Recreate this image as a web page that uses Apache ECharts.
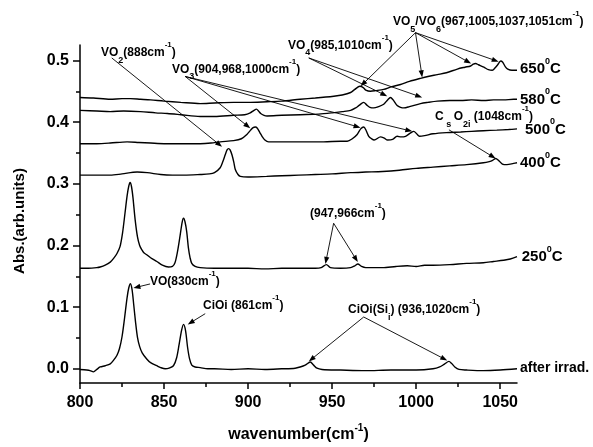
<!DOCTYPE html>
<html><head><meta charset="utf-8">
<script src="https://cdn.jsdelivr.net/npm/echarts@6/dist/echarts.min.js"></script>
<style>html,body{margin:0;padding:0;background:#fff}#c{width:593px;height:447px}</style>
</head><body><div id="c"></div>
<script>
// ---- axis ticks ----
const xTicks = [800, 850, 900, 950, 1000, 1050];
const xMinorTicks = [825, 875, 925, 975, 1025];
const yTicks = [0, 0.1, 0.2, 0.3, 0.4, 0.5];
const yMinorTicks = [0.05, 0.15, 0.25, 0.35, 0.45];

// ---- spectra [wavenumber, absorbance] ----
const afterIrrad = [[800,-0.001],[804,-0.002],[806,-0.003],[808,-0.005],[810,-0.001],[812,0.003],[815,0.005],[818,0.008],[820,0.014],[822,0.022],[823.5,0.033],[825,0.052],[826.5,0.082],[828,0.115],[829,0.131],[830,0.138],[831,0.128],[832,0.103],[833,0.077],[834.2,0.051],[835.5,0.036],[837,0.026],[839.7,0.016],[842,0.010],[845.7,0.005],[848,0.002],[850.7,0.000],[853,0.001],[855.6,0.005],[857.5,0.018],[859,0.040],[860.5,0.063],[861.6,0.072],[862.8,0.062],[864,0.035],[865.2,0.016],[866.5,0.006],[868.5,0.003],[871.5,0.002],[876,0.000],[880,0.000],[890,-0.001],[900,0.000],[910,-0.001],[920,0.000],[928,0.001],[931,0.003],[934,0.006],[937,0.011],[939,0.006],[941,0.001],[944,-0.001],[955,-0.002],[970,-0.003],[985,-0.002],[1000,-0.002],[1010,0.000],[1014,0.003],[1017,0.008],[1019.5,0.012],[1021,0.009],[1023,0.003],[1025.5,-0.001],[1030,-0.002],[1040,-0.003],[1050,-0.002],[1060,0.000]];
const t250 = [[800,0.163],[805,0.163],[810,0.164],[812,0.165],[815,0.168],[818,0.173],[820,0.179],[822,0.187],[823.8,0.198],[825.3,0.220],[826.8,0.253],[828,0.280],[829,0.296],[829.8,0.302],[830.6,0.296],[831.5,0.278],[832.8,0.242],[834.2,0.214],[835.5,0.200],[836.8,0.193],[838,0.188],[839.7,0.185],[842,0.180],[845.7,0.174],[849,0.168],[852.6,0.165],[855,0.166],[856.5,0.172],[858,0.190],[859.5,0.215],[860.8,0.238],[861.6,0.244],[862.5,0.238],[863.5,0.222],[864.5,0.196],[865.5,0.180],[866.5,0.171],[868.5,0.166],[871.5,0.164],[880,0.163],[890,0.163],[900,0.163],[910,0.162],[920,0.163],[931,0.163],[940,0.163],[943.5,0.164],[946.6,0.169],[949,0.164],[955,0.163],[961,0.164],[963.5,0.167],[965.3,0.170],[967.5,0.166],[970,0.164],[980,0.164],[988,0.166],[994.7,0.167],[1000,0.166],[1005,0.168],[1010,0.168],[1020,0.169],[1030,0.171],[1040,0.172],[1046,0.174],[1052,0.176],[1056,0.178],[1060,0.182]];
const t400 = [[800,0.314],[810,0.314],[818,0.314],[825,0.316],[834,0.319],[840,0.318],[848,0.315],[855,0.314],[862,0.314],[871.5,0.315],[877,0.316],[880,0.318],[883.4,0.326],[885,0.336],[886.4,0.347],[887.5,0.355],[888.4,0.357],[889.3,0.355],[890.4,0.347],[891.5,0.335],[892.4,0.323],[894,0.315],[895.4,0.312],[900,0.311],[911,0.312],[920,0.313],[930,0.314],[940,0.315],[950,0.316],[961,0.318],[970,0.319],[980,0.320],[990,0.322],[1000,0.325],[1010,0.327],[1020,0.329],[1030,0.331],[1040,0.334],[1043.5,0.336],[1045.5,0.338],[1047.3,0.341],[1049,0.338],[1051.3,0.332],[1054,0.331],[1058,0.333],[1060,0.334]];
const t500 = [[800,0.365],[810,0.365],[818,0.366],[828,0.368],[835,0.367],[842,0.366],[850,0.365],[856,0.365],[864,0.365],[871.5,0.365],[878,0.366],[883.4,0.368],[891.4,0.370],[896,0.373],[899.3,0.380],[901.5,0.387],[903,0.391],[904.3,0.392],[905.5,0.390],[907,0.383],[908.3,0.377],[910,0.371],[912.2,0.368],[920,0.368],[931,0.368],[945,0.368],[955,0.369],[959,0.369],[962,0.373],[964.9,0.380],[967,0.389],[968.8,0.392],[970.3,0.386],[971.8,0.377],[973.5,0.373],[975,0.371],[978.8,0.376],[981,0.374],[983,0.371],[986,0.372],[988.7,0.377],[991,0.376],[993.7,0.377],[996.5,0.382],[998.6,0.385],[1000.3,0.381],[1002,0.377],[1005,0.378],[1010,0.381],[1018,0.383],[1026.5,0.384],[1033,0.385],[1040,0.386],[1048,0.387],[1055,0.388],[1060,0.389]];
const t580 = [[800,0.419],[810,0.418],[818,0.417],[826,0.418],[836,0.417],[845,0.415],[852,0.414],[860,0.412],[871.5,0.409],[880,0.409],[891.4,0.411],[898,0.412],[901.3,0.415],[903.5,0.419],[905,0.421],[906.2,0.418],[907.5,0.414],[909.5,0.411],[911.3,0.410],[920,0.411],[931,0.412],[942,0.413],[950,0.415],[956,0.417],[961,0.419],[964,0.423],[966,0.427],[968.8,0.432],[970.5,0.428],[972.5,0.424],[974.8,0.423],[977.5,0.425],[980.7,0.429],[983,0.436],[984.7,0.440],[986.3,0.436],[988.7,0.427],[990.7,0.424],[992.7,0.423],[996,0.425],[1002.6,0.430],[1007,0.432],[1012.6,0.434],[1020,0.435],[1026.5,0.435],[1033,0.436],[1040.3,0.435],[1046,0.436],[1052,0.436],[1058,0.437],[1060,0.437]];
const t650 = [[800,0.440],[808,0.439],[818,0.437],[825,0.438],[830,0.438],[836,0.437],[842,0.436],[850,0.434],[860,0.432],[871.5,0.430],[880,0.431],[891.4,0.432],[900,0.432],[911.3,0.433],[920,0.434],[931,0.437],[940,0.439],[951,0.442],[956,0.444],[961,0.448],[963.5,0.453],[966.5,0.458],[968.5,0.456],[970,0.452],[972.8,0.450],[976,0.451],[980.7,0.453],[985,0.457],[990.7,0.461],[996,0.466],[1002.6,0.471],[1007,0.474],[1012.6,0.477],[1018,0.480],[1024.5,0.486],[1029,0.489],[1032.4,0.491],[1034,0.494],[1035.4,0.495],[1037,0.493],[1040.3,0.489],[1043,0.485],[1045.3,0.484],[1047,0.488],[1048.5,0.493],[1050.3,0.499],[1051.5,0.497],[1053,0.490],[1054.5,0.486],[1057,0.484],[1060,0.484]];
const curves = [afterIrrad, t250, t400, t500, t580, t650];
const curveNames = ['after irrad.', '250', '400', '500', '580', '650'];

// ---- annotation arrows, [from, to] in data units ----
const arrows = [
  [[818.9,0.504],[884.5,0.360]],
  [[862.6,0.474],[901.3,0.390]],[[862.6,0.474],[966.9,0.391]],[[862.6,0.474],[997.7,0.385]],
  [[936.1,0.504],[982.8,0.442]],[[936.1,0.504],[1003.6,0.440]],
  [[999.6,0.545],[966.9,0.458]],[[999.6,0.545],[1003.6,0.4725]],[[999.6,0.545],[1032.7,0.495]],[[999.6,0.545],[1049.1,0.498]],
  [[1019.5,0.3875],[1047.3,0.341]],
  [[950.9,0.236],[946.0,0.170]],[[950.9,0.236],[965.3,0.173]],
  [[968.8,0.084],[936.1,0.012]],[[968.8,0.084],[1018.5,0.0135]],
  [[841.7,0.1376],[831.8,0.131]],
  [[874.5,0.0894],[864.1,0.072]]
];

const FONT = '"Liberation Sans", Arial, sans-serif';
const notes = [
  {t:'{n|VO}{b|2}{n|(888cm}{p|-1}{n|)}', x:101, y:53},
  {t:'{n|VO}{b|3}{n|(904,968,1000cm}{p|-1}{n|)}', x:172, y:69.5},
  {t:'{n|VO}{b|4}{n|(985,1010cm}{p|-1}{n|)}', x:288, y:45.5},
  {t:'{n|VO}{b|5}{n|/VO}{b|6}{n|(967,1005,1037,1051cm}{p|-1}{n|)}', x:393, y:21.7},
  {t:'{n|C}{b| s }{n|O}{b|2i}{n| (1048cm}{p|-1}{n|)}', x:435, y:116.7},
  {t:'{n|(947,966cm}{p|-1}{n|)}', x:310, y:214},
  {t:'{n|CiOi(Si}{b|i}{n|) (936,1020cm}{p|-1}{n|)}', x:348, y:309.7},
  {t:'{n|VO(830cm}{p|-1}{n|)}', x:150, y:281.7},
  {t:'{n|CiOi (861cm}{p|-1}{n|)}', x:203, y:305.3}
];
const tempLabels = [
  {t:'{n|650}{p|0}{n|C}', x:520, y:68.7},
  {t:'{n|580}{p|0}{n|C}', x:520, y:99.5},
  {t:'{n|500}{p|0}{n|C}', x:525, y:129.5},
  {t:'{n|400}{p|0}{n|C}', x:520, y:163.3},
  {t:'{n|250}{p|0}{n|C}', x:521.7, y:257.2},
  {t:'{n|after irrad.}', x:520, y:368.3}
];

const chart = echarts.init(document.getElementById('c'), null, {renderer:'canvas'});
const axisLineStyle = {color:'#000', width:1.5};
const labelStyle = {color:'#000', fontFamily:FONT, fontWeight:'bold', fontSize:16};

chart.setOption({
  animation:false,
  backgroundColor:'#fff',
  grid:{left:80, right:76, top:45, bottom:64},
  xAxis:[
    {type:'value', min:800, max:1060, position:'bottom',
     axisLine:{show:true, onZero:false, lineStyle:axisLineStyle},
     axisTick:{show:true, customValues:xTicks, length:6, lineStyle:axisLineStyle},
     axisLabel:Object.assign({customValues:xTicks, margin:12, formatter:v=>String(v)}, labelStyle),
     splitLine:{show:false}},
    {type:'value', min:800, max:1060, position:'bottom',
     axisLine:{show:false, onZero:false},
     axisTick:{show:true, customValues:xMinorTicks, length:4, lineStyle:axisLineStyle},
     axisLabel:{show:false}, splitLine:{show:false}}
  ],
  yAxis:[
    {type:'value', min:-0.023, max:0.525, position:'left',
     axisLine:{show:true, onZero:false, lineStyle:axisLineStyle},
     axisTick:{show:true, customValues:yTicks, length:7, lineStyle:axisLineStyle},
     axisLabel:Object.assign({customValues:yTicks, margin:11, formatter:v=>v.toFixed(1)}, labelStyle),
     splitLine:{show:false}},
    {type:'value', min:-0.023, max:0.525, position:'left',
     axisLine:{show:false, onZero:false},
     axisTick:{show:true, customValues:yMinorTicks, length:4, lineStyle:axisLineStyle},
     axisLabel:{show:false}, splitLine:{show:false}}
  ],
  series: curves.map((d,i)=>({
    name:curveNames[i], type:'line', data:d, xAxisIndex:0, yAxisIndex:0,
    showSymbol:false, symbol:'none', smooth:0.3,
    lineStyle:{color:'#000', width:1.4}, silent:true
  }))
});

function rich(size, supSize, subSize, supUp, subDown){
  const H = 24;
  return {
    n:{fontSize:size, fontWeight:'bold', fontFamily:FONT, color:'#000', lineHeight:H, verticalAlign:'middle'},
    p:{fontSize:supSize, fontWeight:'bold', fontFamily:FONT, color:'#000', lineHeight:H-2*supUp, verticalAlign:'top'},
    b:{fontSize:subSize, fontWeight:'bold', fontFamily:FONT, color:'#000', lineHeight:H-2*subDown, verticalAlign:'bottom'}
  };
}
const gr = [];
const toPx = p => chart.convertToPixel({seriesIndex:0}, p);
arrows.forEach(a=>{
  const p0 = toPx(a[0]), p1 = toPx(a[1]);
  const dx = p1[0]-p0[0], dy = p1[1]-p0[1], L = Math.hypot(dx,dy);
  const ux = dx/L, uy = dy/L, hl = 7, hw = 2.6;
  const bx = p1[0]-ux*hl, by = p1[1]-uy*hl;
  gr.push({type:'line', silent:true, shape:{x1:p0[0], y1:p0[1], x2:bx+ux*1, y2:by+uy*1}, style:{stroke:'#000', lineWidth:0.9}});
  gr.push({type:'polygon', silent:true, shape:{points:[[p1[0],p1[1]],[bx-uy*hw, by+ux*hw],[bx+uy*hw, by-ux*hw]]}, style:{fill:'#000'}});
});
notes.forEach(n=>{
  gr.push({type:'text', silent:true, style:{x:n.x, y:n.y, text:n.t, align:'left', verticalAlign:'middle', rich:rich(12,8,9,3.5,6.5)}});
});
tempLabels.forEach(n=>{
  gr.push({type:'text', silent:true, style:{x:n.x, y:n.y, text:n.t, align:'left', verticalAlign:'middle', rich:rich(n.t.indexOf('after')>=0?14:15,9,9,4,6)}});
});
gr.push({type:'text', silent:true, x:20, y:221, rotation:Math.PI/2,
  style:{x:0, y:0, text:'Abs.(arb.units)', align:'center', verticalAlign:'middle', font:'bold 15px '+FONT, fill:'#000'}});
gr.push({type:'text', silent:true, style:{x:298.5, y:435, text:'{n|wavenumber(cm}{p|-1}{n|)}', align:'center', verticalAlign:'middle', rich:rich(16,10,10,4,6)}});
chart.setOption({graphic:gr});
</script>
</body></html>
